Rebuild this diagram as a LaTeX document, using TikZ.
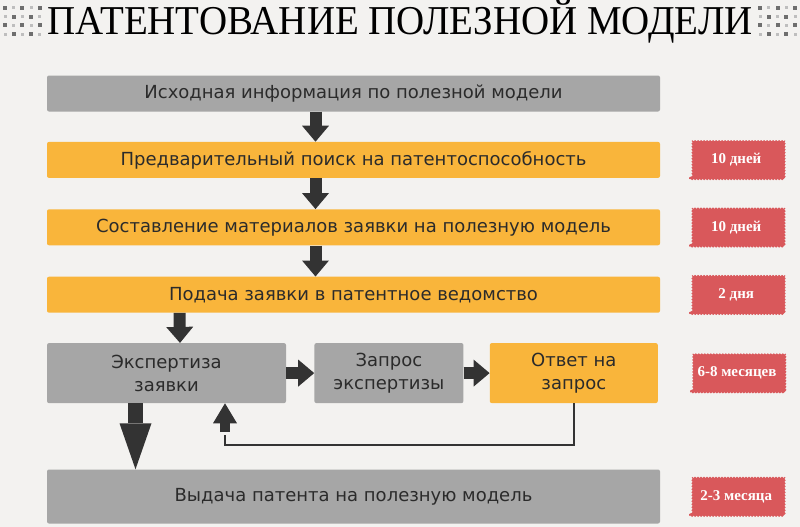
\documentclass[tikz,border=0pt]{standalone}
\usepackage{fontspec}
\setmainfont{DejaVu Sans}
\newfontfamily\titulofont{Liberation Serif}
\newfontfamily\plazofont{Liberation Serif}
\usetikzlibrary{positioning,arrows.meta,decorations.pathmorphing}
\definecolor{cfondo}{HTML}{F3F2F0}
\definecolor{cgris}{HTML}{A6A6A6}
\definecolor{cnaranja}{HTML}{F9B53B}
\definecolor{crojo}{HTML}{D9585B}
\definecolor{coscuro}{HTML}{333333}
\definecolor{ctexto}{HTML}{2B2B2B}
\definecolor{cpunto}{HTML}{6E6E6E}
\tikzset{
  caja/.style={rectangle, rounded corners=2pt, fill=cgris, minimum width=613pt,
    minimum height=36pt, inner sep=0pt, text=ctexto, font=\fontsize{18}{23}\selectfont},
  cajan/.style={caja, fill=cnaranja},
  cajap/.style={caja, minimum height=60pt, align=center},
  plazo/.style={rectangle, fill=crojo, draw=crojo, line width=1pt, decorate,
    decoration={snake, amplitude=0.7pt, segment length=3pt},
    minimum width=93pt, minimum height=38pt, inner sep=0pt, text=white,
    font=\plazofont\bfseries\fontsize{15}{17}\selectfont},
  flecha/.style={-{Triangle[length=16pt, width=27pt, line width=0pt]}, line width=12pt, draw=coscuro},
  flechag/.style={-{Triangle[length=46pt, width=32pt, line width=0pt]}, line width=15pt, draw=coscuro},
  flechac/.style={-{Triangle[length=20pt, width=24pt, line width=0pt]}, line width=10pt, draw=coscuro},
  linea/.style={line width=2.5pt, draw=coscuro},
  punto/.style={fill=cpunto},
  puntoc/.style={fill=cpunto!45},
}

\begin{document}
\begin{tikzpicture}[x=1pt, y=-1pt]
  \fill[cfondo] (0,0) rectangle (800,527);
  \useasboundingbox (0,0) rectangle (800,527);
  % titulo
  \node[anchor=base, inner sep=0pt, font=\titulofont\fontsize{41}{41}\selectfont] (titulo) at (400,35)
    {\scalebox{0.95}[1]{ПАТЕНТОВАНИЕ ПОЛЕЗНОЙ МОДЕЛИ}};
  \foreach \i in {0,...,4}{
    \foreach \j in {0,...,3}{
      \pgfmathparse{int(mod(\i+\j,2))}
      \ifnum\pgfmathresult=0
        \fill[punto] ({5+8.7*\i},{8+8.7*\j}) +(-2,-2) rectangle +(2,2);
        \fill[punto] ({795-8.7*\i},{8+8.7*\j}) +(-2,-2) rectangle +(2,2);
      \else
        \fill[puntoc] ({5+8.7*\i},{8+8.7*\j}) +(-1.5,-1.5) rectangle +(1.5,1.5);
        \fill[puntoc] ({795-8.7*\i},{8+8.7*\j}) +(-1.5,-1.5) rectangle +(1.5,1.5);
      \fi
    }
  }
  % etapas
  \node[caja] (ini) at (353.5,93.5) {Исходная информация по полезной модели};
  \node[cajan, below=30pt of ini] (pre) {Предварительный поиск на патентоспособность};
  \node[cajan, below=31pt of pre] (sos) {Составление материалов заявки на полезную модель};
  \node[cajan, below=31pt of sos] (pod) {Подача заявки в патентное ведомство};
  \node[cajap, minimum width=239pt, below=30pt of pod.south west, anchor=north west] (exp) {Экспертиза\\заявки};
  \node[cajap, minimum width=149pt, right=28pt of exp] (zap) {Запрос\\экспертизы};
  \node[cajap, fill=cnaranja, minimum width=168pt, right=26pt of zap] (otv) {Ответ на\\запрос};
  \node[caja, minimum height=54pt, below=66pt of exp.south west, anchor=north west] (vyd) {Выдача патента на полезную модель};
  % plazos
  \node[plazo, right=29pt of pre] (t1) {10 дней};
  \node[plazo, right=29pt of sos] (t2) {10 дней};
  \node[plazo, right=29pt of pod] (t3) {2 дня};
  \node[plazo, right=32pt of otv] (t4) {6-8 месяцев};
  \node[plazo, right=29pt of vyd] (t5) {2-3 месяца};
  % flechas
  \draw[flecha] ([xshift=-38pt]ini.south) -- ([xshift=-38pt]pre.north);
  \draw[flecha] ([xshift=-38pt]pre.south) -- ([xshift=-38pt]sos.north);
  \draw[flecha] ([xshift=-38pt]sos.south) -- ([xshift=-38pt]pod.north);
  \draw[flecha] ([xshift=-174pt]pod.south) -- ([xshift=13.5pt]exp.north);
  \draw[flecha] (exp) -- (zap);
  \draw[flecha] (zap) -- (otv);
  \draw[flechag] ([xshift=-31pt]exp.south) -- ([xshift=-31pt]exp.south |- vyd.north);
  \coordinate (vuelta) at (225,445);
  \draw[linea] (otv.south) |- (vuelta) -- ([yshift=10pt]vuelta);
  \draw[flechac] ([yshift=13pt]vuelta) -- (vuelta |- exp.south);
\end{tikzpicture}
\end{document}
